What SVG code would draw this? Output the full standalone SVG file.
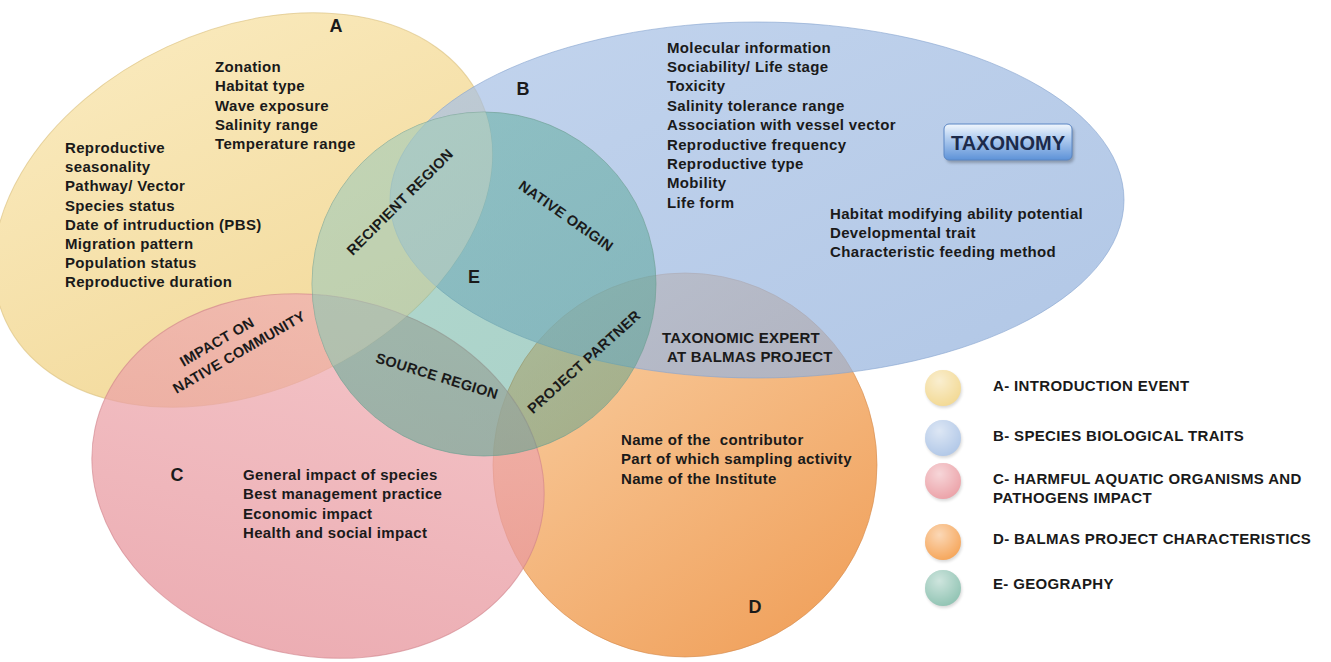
<svg xmlns="http://www.w3.org/2000/svg" width="1331" height="662" viewBox="0 0 1331 662">
<defs>
<style>
.t{font-family:"Liberation Sans",Arial,Helvetica,sans-serif;font-weight:bold;font-size:15px;letter-spacing:0.35px;fill:#1a1a1a}
.big{font-size:18px;letter-spacing:0}
.lbl{font-size:14.5px;letter-spacing:0.3px}
.ttl{font-size:15px;letter-spacing:0.2px}
.sh{stroke-width:1}
</style>
<linearGradient id="gA" x1="0" y1="0" x2="0" y2="1"><stop offset="0" stop-color="#f8e5b0"/><stop offset="1" stop-color="#f1d58e"/></linearGradient>
<linearGradient id="gB" x1="0" y1="0" x2="1" y2="1"><stop offset="0" stop-color="#a9c2e6"/><stop offset="1" stop-color="#90afdb"/></linearGradient>
<linearGradient id="gC" x1="0" y1="0" x2="0" y2="1"><stop offset="0" stop-color="#efadb2"/><stop offset="1" stop-color="#e58e96"/></linearGradient>
<linearGradient id="gD" x1="0.2" y1="0" x2="0.9" y2="1"><stop offset="0" stop-color="#f8c896"/><stop offset="1" stop-color="#ee9446"/></linearGradient>
<linearGradient id="gE" x1="0" y1="0" x2="1" y2="1"><stop offset="0" stop-color="#5aae98"/><stop offset="1" stop-color="#4a9c8a"/></linearGradient>
<linearGradient id="gBtn" x1="0" y1="0" x2="0" y2="1"><stop offset="0" stop-color="#f2f7fd"/><stop offset="0.35" stop-color="#b9d2f1"/><stop offset="1" stop-color="#5d92d8"/></linearGradient>
<radialGradient id="gloss" cx="0.4" cy="0.3" r="0.7"><stop offset="0" stop-color="#ffffff" stop-opacity="0.55"/><stop offset="1" stop-color="#ffffff" stop-opacity="0"/></radialGradient>
<filter id="blur" x="-30%" y="-30%" width="160%" height="160%"><feGaussianBlur stdDeviation="1.5"/></filter>
<clipPath id="clipA"><ellipse cx="243" cy="210" rx="262" ry="180" transform="rotate(-25 243 210)"/></clipPath>
<clipPath id="clipC"><ellipse cx="318" cy="476" rx="228" ry="180" transform="rotate(12 318 476)"/></clipPath>
</defs>
<rect width="1331" height="662" fill="#ffffff"/>

<g id="set-A"><ellipse class="sh" cx="243" cy="210" rx="262" ry="180" transform="rotate(-25 243 210)" fill="url(#gA)" fill-opacity="0.88" stroke="#d8be7c" stroke-opacity="0.6"/></g>
<g id="set-D"><circle class="sh" cx="685" cy="465" r="192" fill="url(#gD)" fill-opacity="0.9" stroke="#d48a4c" stroke-opacity="0.6"/></g>
<g id="set-C"><ellipse class="sh" cx="318" cy="476" rx="228" ry="180" transform="rotate(12 318 476)" fill="url(#gC)" fill-opacity="0.72" stroke="#cf8088" stroke-opacity="0.6"/></g>
<g id="set-B"><ellipse class="sh" cx="757" cy="200" rx="367" ry="178" fill="url(#gB)" fill-opacity="0.7" stroke="#86a3cf" stroke-opacity="0.6"/></g>
<g id="set-E">
<circle class="sh" cx="484" cy="284" r="172" fill="url(#gE)" fill-opacity="0.47" stroke="#6a9d90" stroke-opacity="0.6"/>
<circle cx="484" cy="284" r="172" fill="#f4efe0" fill-opacity="0.3" clip-path="url(#clipA)"/>
<circle cx="484" cy="284" r="172" fill="#5fb392" fill-opacity="0.12" clip-path="url(#clipC)"/>
</g>

<g id="connectors"></g>

<g id="labels-A">
<text class="t big" x="336" y="32" text-anchor="middle">A</text>
<text class="t" x="215" y="72"><tspan x="215">Zonation</tspan><tspan x="215" dy="19.3">Habitat type</tspan><tspan x="215" dy="19.3">Wave exposure</tspan><tspan x="215" dy="19.3">Salinity range</tspan><tspan x="215" dy="19.3">Temperature range</tspan></text>
<text class="t" x="65" y="153"><tspan x="65">Reproductive</tspan><tspan x="65" dy="19.2">seasonality</tspan><tspan x="65" dy="19.2">Pathway/ Vector</tspan><tspan x="65" dy="19.2">Species status</tspan><tspan x="65" dy="19.2">Date of intruduction (PBS)</tspan><tspan x="65" dy="19.2">Migration pattern</tspan><tspan x="65" dy="19.2">Population status</tspan><tspan x="65" dy="19.2">Reproductive duration</tspan></text>
<g transform="translate(228 347) rotate(-30)"><text class="t lbl" x="-7" y="-5" text-anchor="middle">IMPACT ON</text><text class="t lbl" x="7" y="15" text-anchor="middle">NATIVE COMMUNITY</text></g>
</g>

<g id="labels-B">
<text class="t big" x="523" y="95" text-anchor="middle">B</text>
<text class="t" x="667" y="52.5"><tspan x="667">Molecular information</tspan><tspan x="667" dy="19.4">Sociability/ Life stage</tspan><tspan x="667" dy="19.4">Toxicity</tspan><tspan x="667" dy="19.4">Salinity tolerance range</tspan><tspan x="667" dy="19.4">Association with vessel vector</tspan><tspan x="667" dy="19.4">Reproductive frequency</tspan><tspan x="667" dy="19.4">Reproductive type</tspan><tspan x="667" dy="19.4">Mobility</tspan><tspan x="667" dy="19.4">Life form</tspan></text>
<text class="t" x="830" y="218.5"><tspan x="830">Habitat modifying ability potential</tspan><tspan x="830" dy="19.3">Developmental trait</tspan><tspan x="830" dy="19.3">Characteristic feeding method</tspan></text>
<g id="taxonomy">
<rect x="946" y="127" width="128" height="36" rx="5" fill="#000" opacity="0.25" filter="url(#blur)"/>
<rect x="944" y="124" width="128" height="36" rx="5" fill="url(#gBtn)" stroke="#5a86c4" stroke-width="1"/>
<text x="1008" y="149.5" text-anchor="middle" style="font-family:'Liberation Sans',Arial,sans-serif;font-weight:bold;font-size:20px;fill:#1c2a4a">TAXONOMY</text>
</g>
</g>

<g id="labels-C">
<text class="t big" x="177" y="481" text-anchor="middle">C</text>
<text class="t" x="243" y="480"><tspan x="243">General impact of species</tspan><tspan x="243" dy="19.4">Best management practice</tspan><tspan x="243" dy="19.4">Economic impact</tspan><tspan x="243" dy="19.4">Health and social impact</tspan></text>
</g>

<g id="labels-D">
<text class="t big" x="755" y="613" text-anchor="middle">D</text>
<text class="t" x="621" y="445" xml:space="preserve"><tspan x="621">Name of the  contributor</tspan><tspan x="621" dy="19.3">Part of which sampling activity</tspan><tspan x="621" dy="19.3">Name of the Institute</tspan></text>
<text class="t ttl" x="662" y="343">TAXONOMIC EXPERT</text>
<text class="t ttl" x="667" y="362">AT BALMAS PROJECT</text>
</g>

<g id="labels-E">
<text class="t big" x="474" y="283" text-anchor="middle">E</text>
<text class="t lbl" transform="translate(400 202) rotate(-45)" x="0" y="5" text-anchor="middle">RECIPIENT REGION</text>
<text class="t lbl" transform="translate(566 216) rotate(35)" x="0" y="5" text-anchor="middle">NATIVE ORIGIN</text>
<text class="t lbl" transform="translate(437 376) rotate(17)" x="0" y="5" text-anchor="middle">SOURCE REGION</text>
<text class="t lbl" transform="translate(584 362) rotate(-42)" x="0" y="5" text-anchor="middle">PROJECT PARTNER</text>
</g>

<g id="legend">
<g id="legend-A"><circle cx="944" cy="390" r="18" fill="#000" opacity="0.15" filter="url(#blur)"/><circle cx="943" cy="388" r="18" fill="#f3da96"/><circle cx="943" cy="388" r="18" fill="url(#gloss)"/><text class="t" x="993" y="391">A- INTRODUCTION EVENT</text></g>
<g id="legend-B"><circle cx="944" cy="440" r="18" fill="#000" opacity="0.15" filter="url(#blur)"/><circle cx="943" cy="438" r="18" fill="#b3c9e8"/><circle cx="943" cy="438" r="18" fill="url(#gloss)"/><text class="t" x="993" y="441">B- SPECIES BIOLOGICAL TRAITS</text></g>
<g id="legend-C"><circle cx="944" cy="483" r="18" fill="#000" opacity="0.15" filter="url(#blur)"/><circle cx="943" cy="481" r="18" fill="#eca4aa"/><circle cx="943" cy="481" r="18" fill="url(#gloss)"/><text class="t" x="993" y="484"><tspan x="993">C- HARMFUL AQUATIC ORGANISMS AND</tspan><tspan x="993" dy="18.5">PATHOGENS IMPACT</tspan></text></g>
<g id="legend-D"><circle cx="944" cy="544" r="18" fill="#000" opacity="0.15" filter="url(#blur)"/><circle cx="943" cy="542" r="18" fill="#f6a85e"/><circle cx="943" cy="542" r="18" fill="url(#gloss)"/><text class="t" x="993" y="544">D- BALMAS PROJECT CHARACTERISTICS</text></g>
<g id="legend-E"><circle cx="944" cy="590" r="18" fill="#000" opacity="0.15" filter="url(#blur)"/><circle cx="943" cy="588" r="18" fill="#93c5b5"/><circle cx="943" cy="588" r="18" fill="url(#gloss)"/><text class="t" x="993" y="589">E- GEOGRAPHY</text></g>
</g>
</svg>
